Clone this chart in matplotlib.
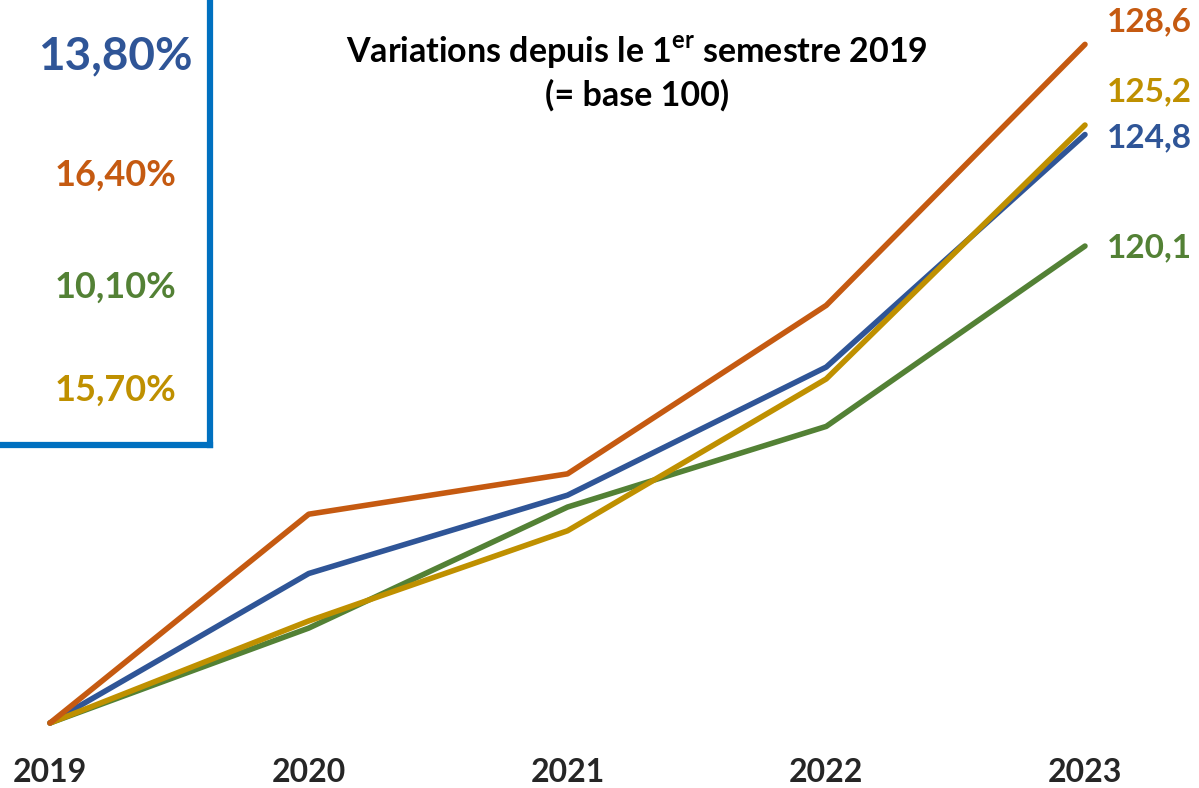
import matplotlib.pyplot as plt
from matplotlib.lines import Line2D

years = ['2019', '2020', '2021', '2022', '2023']
orange = [100, 108.8, 110.5, 117.6, 128.6]
blue = [100, 106.3, 109.6, 115.0, 124.8]
yellow = [100, 104.3, 108.1, 114.5, 125.2]
green = [100, 104.0, 109.1, 112.5, 120.1]

pct_labels = ['13,80%', '16,40%', '10,10%', '15,70%']
end_labels = ['128,6', '125,2', '124,8', '120,1']

c_orange = '#C55A11'
c_blue = '#2F5597'
c_yellow = '#BF9000'
c_green = '#538135'
c_box = '#0070C0'

plt.rcParams['font.family'] = ['Lato', 'DejaVu Sans']

fig = plt.figure(figsize=(11.99, 7.88), dpi=100)
ax = fig.add_axes([0, 0, 1, 1])
ax.set_xlim(-0.1932, 4.4406)
ax.set_ylim(97.26, 130.47)
ax.axis('off')

x = range(len(years))
for vals, col in [(green, c_green), (blue, c_blue), (yellow, c_yellow), (orange, c_orange)]:
    ax.plot(x, vals, color=col, lw=4, solid_capstyle='round', solid_joinstyle='round')

# year labels under the lines
for i, yr in enumerate(years):
    ax.text(i, 0.02, yr, transform=ax.get_xaxis_transform(), ha='center', va='center',
            fontsize=23, fontweight='bold', color='#262626')

# values at the end of each series (offsets in points)
ends = [(orange, c_orange, 128.6, 16), (yellow, c_yellow, 125.2, 24), (blue, c_blue, 124.8, -2), (green, c_green, 120.1, -1)]
for (vals, col, v, dy), lab in zip(ends, end_labels):
    ax.annotate(lab, (4, vals[-1]), xytext=(16, dy), textcoords='offset points',
                ha='left', va='center', fontsize=24, fontweight='bold', color=col)

# title
fig.text(0.531, 0.907, 'Variations depuis le 1$^{\\mathregular{er}}$ semestre 2019\n(= base 100)',
         ha='center', va='center', fontsize=24.5, fontweight='bold', color='black', linespacing=1.3)

# box on the left with percentages
fig.add_artist(Line2D([0.1752, 0.1752], [1.0, 0.435], color=c_box, lw=4.5, transform=fig.transFigure))
fig.add_artist(Line2D([0.0, 0.1752], [0.435, 0.435], color=c_box, lw=4.5, transform=fig.transFigure))
pct_y = [0.928, 0.778, 0.636, 0.505]
pct_col = [c_blue, c_orange, c_green, c_yellow]
pct_size = [33, 26, 26, 26]
for lab, yy, col, fs in zip(pct_labels, pct_y, pct_col, pct_size):
    fig.text(0.096, yy, lab, ha='center', va='center', fontsize=fs, fontweight='bold', color=col)

fig.savefig('out.png', dpi=100)
